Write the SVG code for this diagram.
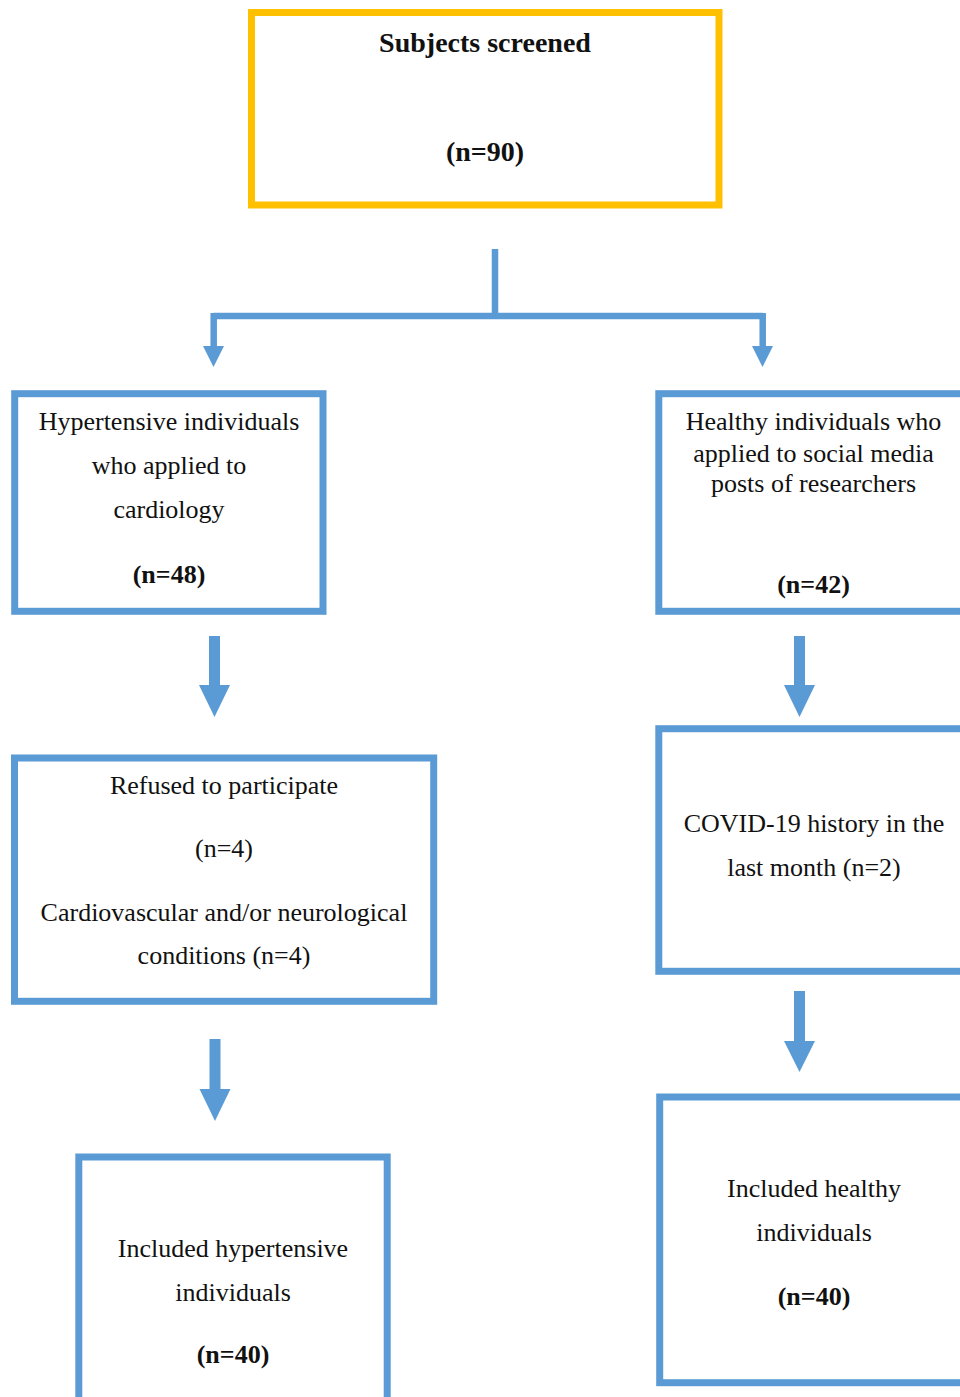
<svg xmlns="http://www.w3.org/2000/svg" width="960" height="1397" viewBox="0 0 960 1397">
<style>
.box{fill:#fff;stroke:#5B9BD5;stroke-width:7}
.top{fill:#fff;stroke:#FFC000;stroke-width:7}
.t{font-family:"Liberation Serif","Times New Roman",serif;font-size:26px;fill:#111;text-anchor:middle}
.b{font-weight:bold}
.tt{font-size:28px}
.ln{fill:none;stroke:#5B9BD5;stroke-width:6.5}
.ar{fill:#5B9BD5}
</style>
<rect width="960" height="1397" fill="#fff"/>
<g id="connectors">
<path class="ln" d="M495,249 V316 M213.7,316 H762.7 M213.7,313 V347 M762.7,313 V347"/>
<polygon class="ar" points="203,346 224,346 213.5,367"/>
<polygon class="ar" points="752,346 773,346 762.5,367"/>
<polygon class="ar" points="209,636 220,636 220,685 230,685 214.5,717 199,685 209,685"/>
<polygon class="ar" points="209.5,1039 220.5,1039 220.5,1089 230.5,1089 215,1121 199.5,1089 209.5,1089"/>
<polygon class="ar" points="794,636 805,636 805,685 815,685 799.5,717 784,685 794,685"/>
<polygon class="ar" points="794,991 805,991 805,1041 815,1041 799.5,1072 784,1041 794,1041"/>
</g>
<g id="screened">
<rect class="top" x="251.5" y="12.5" width="467.5" height="192.5"/>
<text class="t b tt" x="485" y="52">Subjects screened</text>
<text class="t b tt" x="485" y="161">(n=90)</text>
</g>
<g id="hypertensive">
<rect class="box" x="14.7" y="393.7" width="308.3" height="217.6"/>
<text class="t" x="169" y="430">Hypertensive individuals</text>
<text class="t" x="169" y="474.3">who applied to</text>
<text class="t" x="169" y="518.3">cardiology</text>
<text class="t b" x="169" y="582.7">(n=48)</text>
</g>
<g id="healthy">
<rect class="box" x="658.8" y="393.7" width="320" height="217.6"/>
<text class="t" x="813.5" y="430">Healthy individuals who</text>
<text class="t" x="813.5" y="461.7">applied to social media</text>
<text class="t" x="813.5" y="491.7">posts of researchers</text>
<text class="t b" x="813.5" y="593.3">(n=42)</text>
</g>
<g id="refused">
<rect class="box" x="14.5" y="758" width="419.2" height="243.3"/>
<text class="t" x="224" y="794.3">Refused to participate</text>
<text class="t" x="224" y="857.3">(n=4)</text>
<text class="t" x="224" y="921">Cardiovascular and/or neurological</text>
<text class="t" x="224" y="964.3">conditions (n=4)</text>
</g>
<g id="covid">
<rect class="box" x="658.8" y="728.7" width="320" height="242.6"/>
<text class="t" x="814" y="831.7">COVID-19 history in the</text>
<text class="t" x="814" y="875.7">last month (n=2)</text>
</g>
<g id="included-hypertensive">
<rect class="box" x="78.8" y="1157" width="308.4" height="260"/>
<text class="t" x="233" y="1256.7">Included hypertensive</text>
<text class="t" x="233" y="1301">individuals</text>
<text class="t b" x="233" y="1362.7">(n=40)</text>
</g>
<g id="included-healthy">
<rect class="box" x="659.7" y="1097" width="320" height="285.7"/>
<text class="t" x="814" y="1196.7">Included healthy</text>
<text class="t" x="814" y="1240.7">individuals</text>
<text class="t b" x="814" y="1305">(n=40)</text>
</g>
</svg>
